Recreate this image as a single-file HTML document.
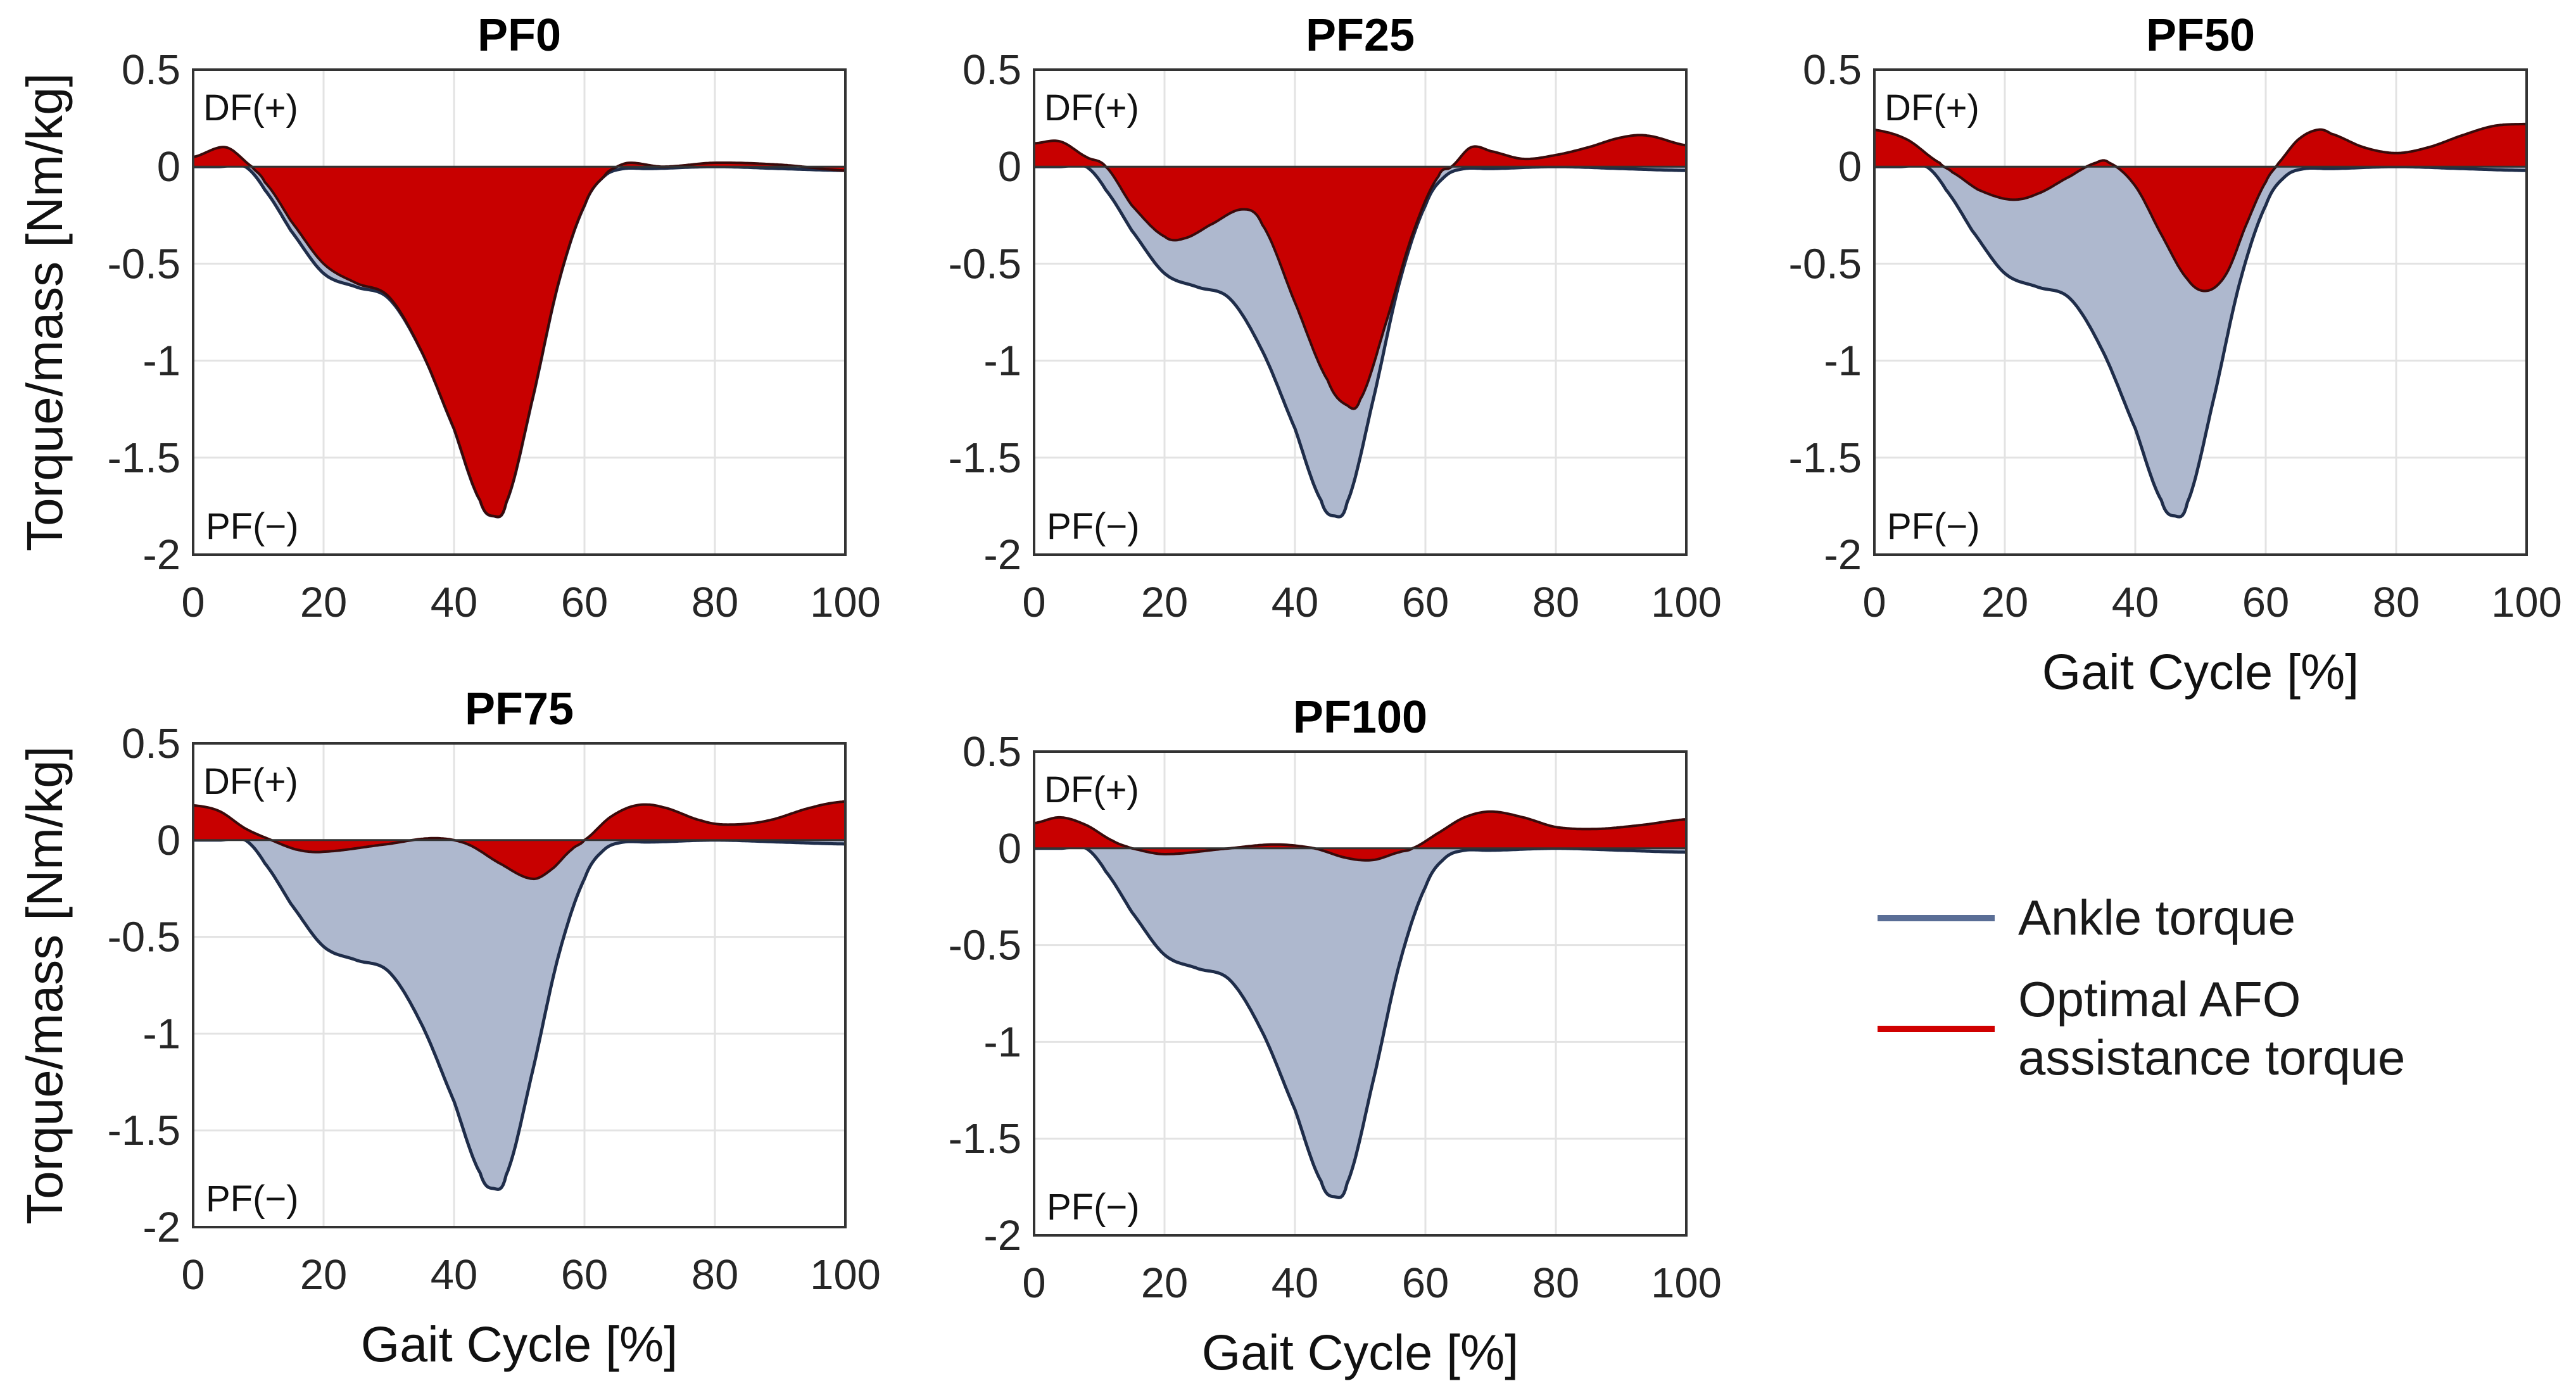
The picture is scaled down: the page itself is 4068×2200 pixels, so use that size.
<!DOCTYPE html>
<html><head><meta charset="utf-8"><style>
html,body{margin:0;padding:0;background:#fff;}
svg{display:block;font-family:"Liberation Sans",Arial,sans-serif;}
</style></head><body>
<svg id="fig" width="4068" height="2200" viewBox="0 0 4068 2200" xmlns="http://www.w3.org/2000/svg">
<g id="legend">
<line x1="2965" y1="1450" x2="3150" y2="1450" stroke="#5a6e96" stroke-width="10"/>
<text x="3187" y="1476" font-size="78" fill="#1a1a1a">Ankle torque</text>
<line x1="2965" y1="1625" x2="3150" y2="1625" stroke="#d00000" stroke-width="10"/>
<text x="3187" y="1605" font-size="78" fill="#1a1a1a">Optimal AFO</text>
<text x="3187" y="1697" font-size="78" fill="#1a1a1a">assistance torque</text>
</g>
</svg>
<script>
const ankleX = [0,4,8,11,15,20,25,30,35,40,44,46,48,52,56,60,63,66,70,80,90,100];
const ankleY = [0,0,0,-0.12,-0.33,-0.55,-0.62,-0.68,-0.95,-1.35,-1.72,-1.8,-1.73,-1.2,-0.6,-0.2,-0.05,-0.01,-0.01,0.0,-0.01,-0.02];
const pf0X = [0,5,9,11,15,20,25,30,35,40,44,46,48,52,56,60,63,65,67,72,80,90,100];
const pf0Y = [0.05,0.1,0.0,-0.08,-0.28,-0.5,-0.6,-0.67,-0.95,-1.35,-1.72,-1.8,-1.73,-1.2,-0.6,-0.2,-0.05,0.0,0.02,0.0,0.02,0.01,-0.02];
const pf25X = [0,4,8,11,15,20,23,27,32,35,40,45,48,50,54,58,62,64,67,70,75,80,85,90,94,100];
const pf25Y = [0.12,0.13,0.05,0.0,-0.2,-0.36,-0.37,-0.3,-0.22,-0.3,-0.7,-1.1,-1.23,-1.2,-0.8,-0.35,-0.05,0.0,0.1,0.08,0.04,0.06,0.1,0.15,0.16,0.11];
const pf50X = [0,5,10,12,16,21,25,30,34,36,40,44,48,51,54,57,60,62,65,68,70,75,80,85,90,95,100];
const pf50Y = [0.19,0.14,0.02,-0.03,-0.12,-0.17,-0.14,-0.05,0.02,0.02,-0.1,-0.35,-0.58,-0.64,-0.55,-0.3,-0.08,0.02,0.14,0.19,0.17,0.1,0.07,0.1,0.16,0.21,0.22];
const pf75X = [0,4,8,12,16,20,30,37,42,47,52,55,58,60,64,68,72,78,82,88,95,100];
const pf75Y = [0.18,0.15,0.06,0.0,-0.05,-0.06,-0.02,0.01,-0.02,-0.12,-0.2,-0.15,-0.05,0.0,0.12,0.18,0.17,0.1,0.08,0.1,0.17,0.2];
const pf100X = [0,4,8,12,15,20,30,37,43,48,52,56,58,62,66,70,75,80,86,93,100];
const pf100Y = [0.13,0.16,0.12,0.04,0.0,-0.03,0.0,0.02,0.0,-0.05,-0.06,-0.02,0.0,0.08,0.16,0.19,0.16,0.11,0.1,0.12,0.15];
const xTicks = [0,20,40,60,80,100];
const xTickLabels = ["0","20","40","60","80","100"];
const yTicks = [0.5,0,-0.5,-1,-1.5,-2];
const yTickLabels = ["0.5","0","-0.5","-1","-1.5","-2"];
const titles = ["PF0","PF25","PF50","PF75","PF100"];

const NS="http://www.w3.org/2000/svg";
const svg=document.getElementById('fig');
function mk(tag,attrs,parent){const e=document.createElementNS(NS,tag);for(const k in attrs)e.setAttribute(k,attrs[k]);parent.appendChild(e);return e;}
function interp(xs,ys,x){
  let i=0;while(i<xs.length-2&&x>xs[i+1])i++;
  const x0=xs[i],x1=xs[i+1],t=(x-x0)/(x1-x0);
  const p0=ys[Math.max(i-1,0)],p1=ys[i],p2=ys[i+1],p3=ys[Math.min(i+2,ys.length-1)];
  const t2=t*t,t3=t2*t;
  return 0.5*((2*p1)+(-p0+p2)*t+(2*p0-5*p1+4*p2-p3)*t2+(-p0+3*p1-3*p2+p3)*t3);
}
const panels=[
 {L:305,T:110,W:1030,H:766,xs:pf0X,ys:pf0Y,ylab:true,xlab:false},
 {L:1633,T:110,W:1030,H:766,xs:pf25X,ys:pf25Y,ylab:false,xlab:false},
 {L:2960,T:110,W:1030,H:766,xs:pf50X,ys:pf50Y,ylab:false,xlab:true},
 {L:305,T:1174,W:1030,H:764,xs:pf75X,ys:pf75Y,ylab:true,xlab:true},
 {L:1633,T:1187,W:1030,H:764,xs:pf100X,ys:pf100Y,ylab:false,xlab:true}
];
panels.forEach((p,idx)=>{
  const g=mk('g',{},svg);
  
  
  const sx=v=>p.L+v/100*p.W;
  const sy=v=>p.T+(0.5-v)/2.5*p.H;
  mk('rect',{x:p.L,y:p.T,width:p.W,height:p.H,fill:'#fff'},g);
  xTicks.forEach(v=>{ if(v>0&&v<100){const l=mk('line',{x1:sx(v),y1:p.T,x2:sx(v),y2:p.T+p.H,stroke:'#e3e3e3','stroke-width':3},g);
    
    }});
  yTicks.forEach(v=>{ if(v<0.5&&v>-2){const l=mk('line',{x1:p.L,y1:sy(v),x2:p.L+p.W,y2:sy(v),stroke:'#e3e3e3','stroke-width':3},g);
    
    }});
  const N=400;let ptsA=[],ptsR=[];
  for(let k=0;k<=N;k++){const x=k/N*100;ptsA.push([sx(x),sy(interp(ankleX,ankleY,x))]);ptsR.push([sx(x),sy(interp(p.xs,p.ys,x))]);}
  const line=pts=>pts.map((q,i)=>(i?'L':'M')+q[0].toFixed(1)+' '+q[1].toFixed(1)).join(' ');
  const z=sy(0);
  const fa=mk('path',{d:line(ptsA)+` L${sx(100)} ${z} L${sx(0)} ${z} Z`,fill:'#aeb8ce',stroke:'none'},g);
  
  
  const la=mk('path',{d:line(ptsA),fill:'none',stroke:'#1f2d4a','stroke-width':5},g);
  
  
  const fr=mk('path',{d:line(ptsR)+` L${sx(100)} ${z} L${sx(0)} ${z} Z`,fill:'#c80000',stroke:'none'},g);
  
  
  const lr=mk('path',{d:line(ptsR),fill:'none',stroke:'#3a0a0a','stroke-width':4},g);
  
  
  mk('line',{x1:p.L,y1:z,x2:p.L+p.W,y2:z,stroke:'#333','stroke-width':3},g);
  const box=mk('rect',{x:p.L,y:p.T,width:p.W,height:p.H,fill:'none',stroke:'#333','stroke-width':4},g);
  
  
  xTicks.forEach((v,i)=>{const t=mk('text',{x:sx(v),y:p.T+p.H+98,'font-size':67,'text-anchor':'middle',fill:'#262626'},g);t.textContent=xTickLabels[i];
    
    });
  yTicks.forEach((v,i)=>{const t=mk('text',{x:p.L-20,y:sy(v)+23,'font-size':67,'text-anchor':'end',fill:'#262626'},g);t.textContent=yTickLabels[i];
    
    });
  const ti=mk('text',{x:p.L+p.W/2,y:p.T-30,'font-size':72,'font-weight':'bold','text-anchor':'middle',fill:'#000'},g);ti.textContent=titles[idx];
  
  
  const df=mk('text',{x:p.L+16,y:p.T+80,'font-size':58,fill:'#111'},g);df.textContent='DF(+)';
  
  
  const pf=mk('text',{x:p.L+20,y:p.T+p.H-25,'font-size':58,fill:'#111'},g);pf.textContent='PF(\u2212)';
  
  
  if(p.ylab){const t=mk('text',{x:0,y:0,'font-size':80,'text-anchor':'middle',fill:'#111',transform:`translate(98,${p.T+p.H/2}) rotate(-90)`},g);t.textContent='Torque/mass [Nm/kg]';
    
    }
  if(p.xlab){const t=mk('text',{x:p.L+p.W/2,y:p.T+p.H+212,'font-size':79,'text-anchor':'middle',fill:'#111'},g);t.textContent='Gait Cycle [%]';
    
    }
});
</script>
</body></html>
